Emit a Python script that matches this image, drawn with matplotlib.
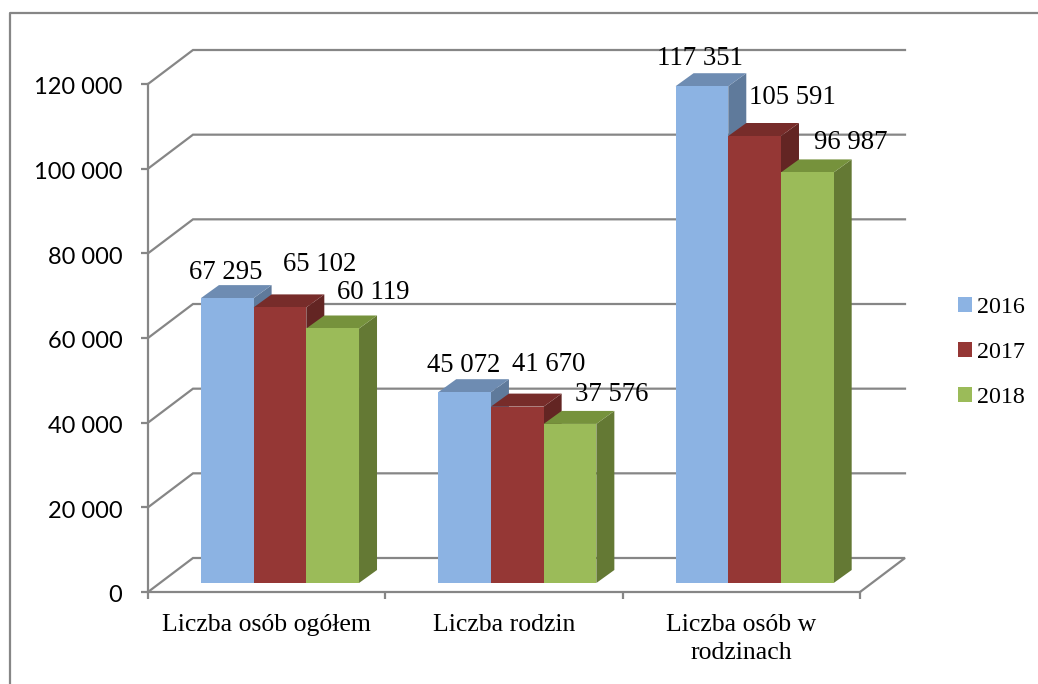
import matplotlib
matplotlib.use("Agg")
import matplotlib.pyplot as plt
from matplotlib.patches import Polygon, Rectangle
from matplotlib.lines import Line2D
from matplotlib.ticker import FuncFormatter, FixedLocator
from matplotlib.transforms import ScaledTranslation

categories = ["Liczba osób ogółem", "Liczba rodzin", "Liczba osób w\nrodzinach"]
years = ["2016", "2017", "2018"]
values_2016 = [67295, 45072, 117351]
values_2017 = [65102, 41670, 105591]
values_2018 = [60119, 37576, 96987]
series = [values_2016, values_2017, values_2018]
y_ticks = [0, 20000, 40000, 60000, 80000, 100000, 120000]

front = ["#8CB3E3", "#953735", "#9BBB59"]
top = ["#6E8CB2", "#772C2A", "#76923C"]
side = ["#5F7A9B", "#632523", "#647934"]
GRID = "#868686"
SERIF = "Liberation Serif"
SANS = "Lato"

# data-label offsets from the top centre of each bar's front face, in pixels
label_offsets = [
    [(-1.5, 26), (-1, 27), (-1.5, 27.6)],
    [(40, 43), (31, 41.6), (38, 38)],
    [(40.5, 35.5), (41.5, 29), (43.5, 29.7)],
]

W, H = 1038, 684
L, R, B, T = 148, 860, 592, 84
fig = plt.figure(figsize=(W / 100, H / 100), dpi=100)
ax = fig.add_axes([L / W, (H - B) / H, (R - L) / W, (B - T) / H])
ax.set_xlim(0, 3)
ax.set_ylim(0, 120000)
ax.patch.set_visible(False)

sx = (R - L) / 3            # px per category
sy = (B - T) / 120000       # px per value
px = lambda d: d / sx
py = lambda d: d / sy

# outer frame (top and left edges show, others run off the picture)
fig.add_artist(Line2D([1, 10 / W, 10 / W], [1 - 13 / H, 1 - 13 / H, 0],
                      transform=fig.transFigure, color=GRID, lw=1.6))

# walls and floor
wx, wy = px(45), py(34)
lw = 1.6
for t in y_ticks:
    if t == 0:
        continue
    ax.plot([0, wx, 3 + wx], [t, t + wy, t + wy], color=GRID, lw=lw, clip_on=False, zorder=1,
            solid_joinstyle="miter")
ax.plot([0, wx, 3 + wx, 3], [0, wy, wy, 0], color=GRID, lw=lw, clip_on=False, zorder=1,
        solid_joinstyle="miter")

# bars
bw = px(52.7)
ox, oy = px(13.3), py(9)
dx, dy = px(18), py(13)
for g in range(3):
    for j, vals in enumerate(series):
        v = vals[g]
        x0 = g + 0.5 + ox + (j - 1.5) * bw
        x1 = x0 + bw
        y0, y1 = oy, oy + v
        z = 3 + g * 3 + j
        kw = dict(clip_on=False, zorder=z, lw=0)
        ax.add_patch(Polygon([(x1, y0), (x1 + dx, y0 + dy), (x1 + dx, y1 + dy), (x1, y1)],
                             fc=side[j], **kw))
        ax.add_patch(Polygon([(x0, y1), (x1, y1), (x1 + dx, y1 + dy), (x0 + dx, y1 + dy)],
                             fc=top[j], **kw))
        ax.add_patch(Rectangle((x0, y0), bw, v, fc=front[j], **kw))
        label = f"{v:,}".replace(",", " ")
        ax.annotate(label, xy=(x0 + bw / 2, y1), xytext=label_offsets[j][g],
                    textcoords="offset pixels", ha="center", va="center",
                    family=SERIF, fontsize=19.3, color="black", zorder=50,
                    annotation_clip=False)

# axes
for s in ["top", "right"]:
    ax.spines[s].set_visible(False)
for s in ["left", "bottom"]:
    ax.spines[s].set_color(GRID)
    ax.spines[s].set_linewidth(lw)
    ax.spines[s].set_zorder(2)
ax.yaxis.set_major_locator(FixedLocator(y_ticks))
ax.yaxis.set_major_formatter(FuncFormatter(lambda v, p: f"{int(v):,}".replace(",", " ")))
ax.tick_params(axis="y", length=5.2, width=lw, color=GRID, pad=13.2, labelsize=17)
shift = ScaledTranslation(0, -2 / 100, fig.dpi_scale_trans)
for t in ax.get_yticklabels():
    t.set_family(SANS)
    t.set_transform(t.get_transform() + shift)
ax.set_xticks([0, 1, 2, 3])
ax.set_xticklabels([])
ax.set_xticks([0.5, 1.5, 2.5], labels=categories, minor=True)
ax.tick_params(axis="x", which="major", length=5, width=lw, color=GRID)
ax.tick_params(axis="x", which="minor", length=0, pad=15.5, labelsize=18.5)
for t in ax.get_xticklabels(minor=True):
    t.set_family(SERIF)
    t.set_linespacing(1.38)

# legend
handles = [Rectangle((0, 0), 1, 1, fc=c, lw=0) for c in front]
ax.legend(handles, years, loc="center left",
          bbox_to_anchor=((958 - L) / (R - L), (B - 352.5) / (B - T)),
          frameon=False, prop={"family": SERIF, "size": 17.3},
          handlelength=0.6, handleheight=0.6, handletextpad=0.2,
          labelspacing=0.99, borderpad=0, borderaxespad=0)

fig.savefig("out.png", dpi=100)
